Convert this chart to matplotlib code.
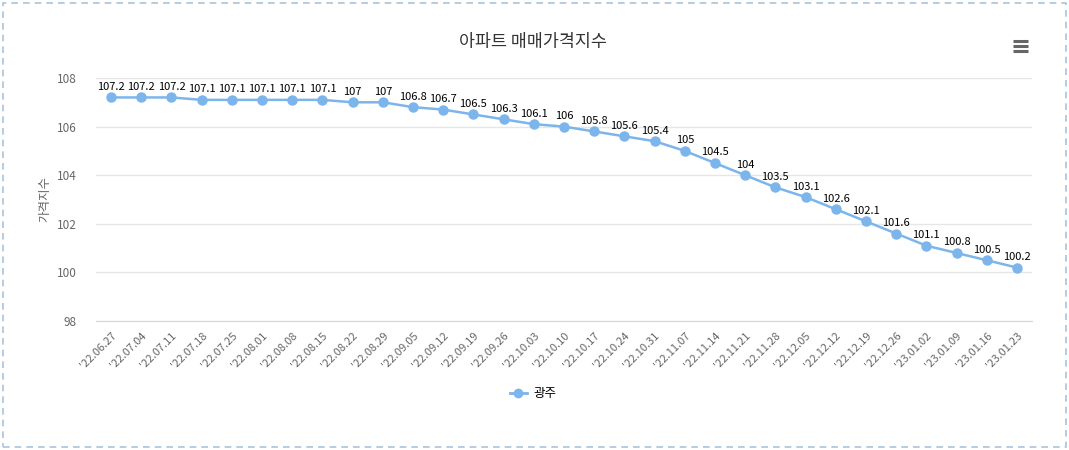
import matplotlib
matplotlib.use("Agg")
from matplotlib import pyplot as plt
from matplotlib.patches import Rectangle
from matplotlib.lines import Line2D

plt.rcParams['font.family'] = ['Noto Sans CJK KR', 'DejaVu Sans']

# weekly apartment sale price index, Gwangju
dates = ["'22.06.27", "'22.07.04", "'22.07.11", "'22.07.18", "'22.07.25",
         "'22.08.01", "'22.08.08", "'22.08.15", "'22.08.22", "'22.08.29",
         "'22.09.05", "'22.09.12", "'22.09.19", "'22.09.26", "'22.10.03",
         "'22.10.10", "'22.10.17", "'22.10.24", "'22.10.31", "'22.11.07",
         "'22.11.14", "'22.11.21", "'22.11.28", "'22.12.05", "'22.12.12",
         "'22.12.19", "'22.12.26", "'23.01.02", "'23.01.09", "'23.01.16",
         "'23.01.23"]
gwangju = [107.2, 107.2, 107.2, 107.1, 107.1, 107.1, 107.1, 107.1, 107, 107,
           106.8, 106.7, 106.5, 106.3, 106.1, 106, 105.8, 105.6, 105.4, 105,
           104.5, 104, 103.5, 103.1, 102.6, 102.1, 101.6, 101.1, 100.8, 100.5,
           100.2]
y_ticks = [98, 100, 102, 104, 106, 108]

line_color = "#7cb5ec"
W, H = 1069, 450

fig = plt.figure(figsize=(W / 100, H / 100), dpi=100)
ax = fig.add_axes([96 / W, 1 - 321 / H, (1032 - 96) / W, (321 - 78) / H])

x = list(range(len(dates)))
ax.plot(x, gwangju, color=line_color, lw=1.8, marker="o", markersize=6.5,
        markeredgecolor=line_color, zorder=3)

for xi, v in zip(x, gwangju):
    ax.annotate(f"{v:g}", (xi, v), xytext=(0, 4), textcoords="offset points",
                ha="center", va="bottom", fontsize=8, color="#000000",
                zorder=4)

ax.set_xlim(-0.5, len(dates) - 0.5)
ax.set_ylim(98, 108)
ax.set_yticks(y_ticks)
ax.set_yticklabels([str(t) for t in y_ticks], fontsize=8.5, color="#666666")
ax.set_xticks(x)
ax.set_xticklabels(dates, fontsize=8, color="#666666", rotation=45,
                   ha="right", va="top", rotation_mode="anchor")
ax.tick_params(axis="both", length=0)
ax.tick_params(axis="y", pad=14)
ax.tick_params(axis="x", pad=7)
ax.grid(axis="y", color="#e6e6e6", lw=1)
ax.set_axisbelow(True)
for s in ["top", "right", "left"]:
    ax.spines[s].set_visible(False)
ax.spines["bottom"].set_color("#ccd6eb")
ax.set_ylabel("가격지수", fontsize=9, color="#666666", labelpad=4)

fig.text(533 / W, 1 - 42 / H, "아파트 매매가격지수", ha="center", va="center",
         fontsize=12.5, color="#333333")

# legend
leg_handle = Line2D([], [], color=line_color, lw=2, marker="o", markersize=6)
fig.legend([leg_handle], ["광주"], loc="center", bbox_to_anchor=(533 / W, 1 - 394 / H),
           frameon=False, fontsize=9, handlelength=1.4, handletextpad=0.5)

# menu icon
for dy in (-5, 0, 5):
    fig.add_artist(Line2D([1013 / W, 1028 / W], [1 - (46 + dy) / H] * 2,
                          color="#666666", lw=2.2, solid_capstyle="butt"))

# dashed border
fig.add_artist(Rectangle((3 / W, 3 / H), (W - 6) / W, (H - 6) / H,
                         transform=fig.transFigure, fill=False,
                         edgecolor="#a9c4dc", lw=1.2, linestyle=(0, (4, 3))))

fig.savefig("out.png", dpi=100)
